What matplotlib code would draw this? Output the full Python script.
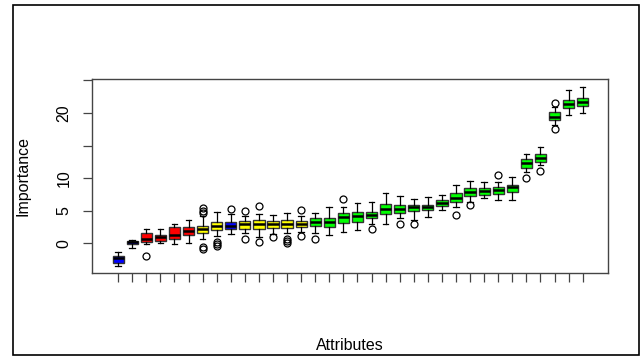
import matplotlib
matplotlib.use('Agg')
import matplotlib.pyplot as plt
from matplotlib.patches import Rectangle

plt.rcParams['font.family'] = ['Liberation Sans', 'DejaVu Sans']

# Boxplot statistics per attribute (sorted by median importance)
whislo = [-3.6, -0.7, -0.15, 0.0, -0.2, 0.0, 0.7, 1.1, 1.4, 1.5, 1.0, 1.4,
          1.5, 1.75, 1.5, 1.3, 1.75, 2.0, 2.9, 3.0, 3.8, 3.6, 4.05, 5.1,
          5.5, 6.35, 7.0, 6.6, 6.6, 10.95, 12.0, 18.15, 19.7, 19.95]
q1 = [-3.0, -0.1, 0.2, 0.35, 0.7, 1.2, 1.5, 2.0, 2.1, 2.2, 2.1, 2.3,
      2.3, 2.4, 2.6, 2.4, 3.1, 3.3, 3.8, 4.4, 4.55, 5.0, 5.1, 5.7,
      6.35, 7.3, 7.4, 7.5, 7.9, 11.6, 12.5, 18.9, 20.7, 21.1]
med = [-2.35, 0.1, 0.6, 0.9, 1.2, 1.85, 2.1, 2.7, 2.7, 2.9, 2.9, 2.9,
       2.9, 2.9, 3.3, 3.2, 3.95, 4.15, 4.25, 5.2, 5.2, 5.5, 5.5, 6.2,
       7.0, 7.9, 8.05, 8.15, 8.65, 12.25, 13.1, 19.4, 21.4, 21.7]
q3 = [-2.0, 0.3, 1.6, 1.3, 2.5, 2.5, 2.7, 3.2, 3.2, 3.4, 3.5, 3.4,
      3.5, 3.4, 3.9, 3.9, 4.7, 4.8, 4.8, 6.0, 5.85, 5.85, 5.85, 6.6,
      7.65, 8.4, 8.5, 8.65, 9.0, 12.9, 13.65, 20.1, 22.0, 22.35]
whishi = [-1.35, 0.46, 2.1, 2.2, 3.0, 3.6, 4.15, 4.8, 4.45, 4.2, 4.45, 4.3,
          4.7, 4.15, 4.7, 5.6, 5.6, 6.1, 6.25, 7.7, 7.2, 6.75, 7.1, 7.4,
          8.9, 9.5, 9.4, 9.4, 10.2, 13.65, 14.7, 20.9, 23.5, 24.05]
outliers = [[], [], [-2.0], [], [], [], [5.4, 4.9, 4.6, -0.55, -0.9],
            [0.2, -0.15, -0.4], [5.3], [5.0, 0.6], [5.7, 0.1], [1.0],
            [0.7, 0.35, -0.05], [5.1, 1.1], [0.6], [], [6.8], [], [2.1], [],
            [3.0], [2.9], [], [], [4.3], [5.85], [], [10.45], [], [9.95],
            [11.1], [21.6, 17.6], [], []]
decision = (['shadow'] * 2 + ['rejected'] * 4 + ['tentative'] * 2 + ['shadow']
            + ['tentative'] * 5 + ['confirmed'] * 20)

colors = {'shadow': '#0000FF', 'rejected': '#FF0000',
          'tentative': '#FFFF00', 'confirmed': '#00FF00'}

stats = []
for i in range(len(med)):
    stats.append({'whislo': whislo[i], 'q1': q1[i], 'med': med[i],
                  'q3': q3[i], 'whishi': whishi[i], 'fliers': outliers[i]})

fig = plt.figure(figsize=(6.43, 3.56), dpi=100)
ax = fig.add_axes([92 / 643, 1 - 273 / 356, 516 / 643, 194 / 356])

bp = ax.bxp(stats, positions=range(1, len(med) + 1), widths=0.8,
            patch_artist=True, showfliers=True,
            boxprops=dict(edgecolor='#333333', linewidth=1),
            medianprops=dict(color='black', linewidth=1.8),
            whiskerprops=dict(color='black', linewidth=0.9),
            capprops=dict(color='black', linewidth=0.9),
            capwidths=0.4,
            flierprops=dict(marker='o', markersize=5, markerfacecolor='none',
                            markeredgecolor='black', markeredgewidth=0.9))
for patch, d in zip(bp['boxes'], decision):
    patch.set_facecolor(colors[d])

ax.set_xlim(-0.86, 35.8)
ax.set_ylim(-4.6, 25.23)
ax.set_xticks(range(1, len(med) + 1))
ax.set_xticklabels([])
ax.set_yticks([0, 5, 10, 15, 20, 25])
ax.set_yticklabels(['0', '5', '10', '', '20', ''], rotation=90, va='center')
ax.tick_params(axis='both', direction='out', length=6.8, width=0.9,
               color='#444444', labelsize=11.5, pad=8)
for s in ax.spines.values():
    s.set_color('#444444')
    s.set_linewidth(1)

fig.text(350 / 643, 1 - 346 / 356, 'Attributes', ha='center', va='center',
         fontsize=11.5)
fig.text(23 / 643, 1 - 176 / 356, 'Importance', ha='center', va='center',
         rotation=90, fontsize=11.5)

fig.patches.append(Rectangle((13 / 643, 1 - 355 / 356), 626 / 643, 350 / 356,
                             transform=fig.transFigure, fill=False,
                             edgecolor='black', linewidth=1.2))

fig.savefig('out.png', dpi=100)
